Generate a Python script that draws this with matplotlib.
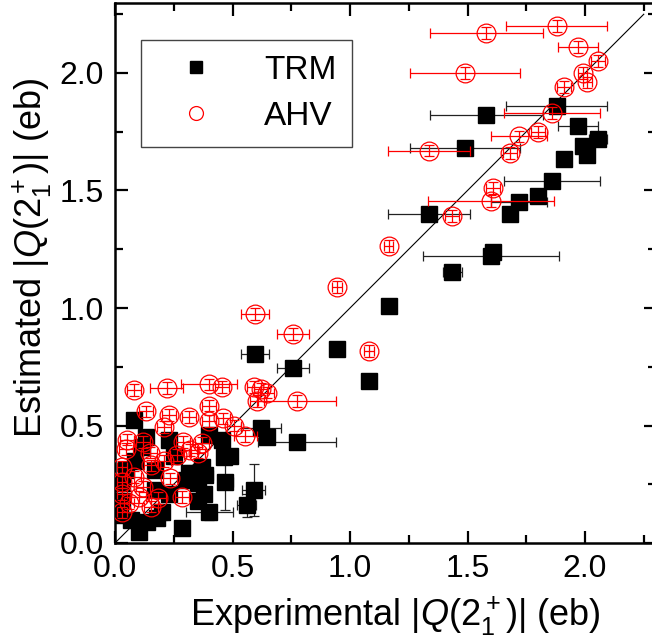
import matplotlib
matplotlib.use('Agg')
import matplotlib.pyplot as plt
import numpy as np

plt.rcParams['font.family'] = ['Liberation Sans', 'DejaVu Sans']
plt.rcParams['mathtext.fontset'] = 'custom'
plt.rcParams['mathtext.rm'] = 'Liberation Sans'
plt.rcParams['mathtext.it'] = 'Liberation Sans:italic'

# TRM (black squares): experimental x, estimated y, x error, y error
trm_x = [1.88, 1.58, 1.97, 2.055, 1.49, 1.99, 2.01, 1.91, 1.86, 1.72, 1.80, 1.335, 1.68,
         1.61, 1.60, 1.435, 1.165, 0.945, 1.08, 0.757, 0.595, 0.775,
         0.62, 0.645, 0.455, 0.40, 0.23, 0.13, 0.08, 0.465, 0.49, 0.47, 0.59, 0.56, 0.40,
         0.385, 0.355, 0.355, 0.285, 0.10, 0.135, 0.07, 0.18, 0.20, 0.085, 0.045, 0.03,
         0.03, 0.17, 0.23, 0.315, 0.37, 0.30, 0.115, 0.17, 0.02, 0.25, 0.38]
trm_y = [1.86, 1.82, 1.775, 1.72, 1.68, 1.69, 1.65, 1.635, 1.54, 1.45, 1.475, 1.40, 1.40,
         1.24, 1.22, 1.155, 1.01, 0.825, 0.69, 0.745, 0.805, 0.43,
         0.49, 0.45, 0.44, 0.46, 0.44, 0.45, 0.525, 0.365, 0.37, 0.26, 0.225, 0.16, 0.13,
         0.29, 0.255, 0.18, 0.065, 0.045, 0.09, 0.10, 0.105, 0.13, 0.35, 0.31, 0.255,
         0.18, 0.225, 0.21, 0.30, 0.325, 0.27, 0.41, 0.31, 0.12, 0.37, 0.21]
trm_xerr = [0.215, 0.24, 0.085, 0.04, 0.235, 0.02, 0.02, 0.03, 0.205, 0.12, 0.03, 0.175, 0.03,
            0.03, 0.29, 0.04, 0.02, 0.02, 0.02, 0.068, 0.06, 0.165,
            0.085, 0.03, 0.03, 0.03, 0.03, 0.03, 0.03, 0.03, 0.03, 0.03, 0.05, 0.04, 0.10,
            0.03, 0.03, 0.03, 0.03, 0.02, 0.03, 0.02, 0.03, 0.03, 0.03, 0.02, 0.02,
            0.02, 0.03, 0.03, 0.03, 0.03, 0.03, 0.03, 0.03, 0.02, 0.03, 0.03]
trm_yerr = [0.02] * 29 + [0.03, 0.03, 0.12, 0.11, 0.05, 0.03] + [0.03] * 23

# AHV (red open circles)
ahv_x = [1.88, 1.58, 1.97, 2.055, 1.49, 1.99, 2.01, 1.91, 1.86, 1.72, 1.80, 1.335, 1.68,
         1.61, 1.60, 1.435, 1.165, 0.945, 1.08, 0.757, 0.595, 0.775,
         0.08, 0.22, 0.40, 0.455, 0.59, 0.62, 0.605, 0.645, 0.13, 0.21, 0.23, 0.315, 0.40,
         0.40, 0.46, 0.505, 0.555, 0.05, 0.12, 0.15, 0.045, 0.29, 0.37, 0.265, 0.355,
         0.03, 0.155, 0.21, 0.235, 0.32, 0.285, 0.10, 0.03, 0.03, 0.155, 0.185, 0.03,
         0.08, 0.12, 0.06]
ahv_y = [2.20, 2.17, 2.11, 2.05, 2.00, 2.00, 1.96, 1.94, 1.83, 1.73, 1.75, 1.67, 1.66,
         1.51, 1.455, 1.39, 1.265, 1.09, 0.817, 0.89, 0.975, 0.605,
         0.65, 0.66, 0.675, 0.665, 0.665, 0.655, 0.605, 0.64, 0.56, 0.495, 0.545, 0.535, 0.585,
         0.52, 0.53, 0.50, 0.455, 0.44, 0.43, 0.385, 0.40, 0.43, 0.425, 0.375, 0.385,
         0.325, 0.33, 0.35, 0.275, 0.395, 0.195, 0.195, 0.21, 0.13, 0.155, 0.19, 0.26,
         0.28, 0.24, 0.17]
ahv_xerr = [0.215, 0.24, 0.085, 0.03, 0.235, 0.02, 0.02, 0.03, 0.205, 0.12, 0.03, 0.175, 0.03,
            0.03, 0.27, 0.03, 0.02, 0.02, 0.02, 0.068, 0.06, 0.165,
            0.03, 0.07, 0.12, 0.03, 0.03, 0.03, 0.03, 0.03, 0.03, 0.03, 0.03, 0.03, 0.03,
            0.03, 0.03, 0.03, 0.05, 0.03, 0.03, 0.03, 0.03, 0.03, 0.03, 0.03, 0.03,
            0.02, 0.03, 0.03, 0.03, 0.03, 0.03, 0.03, 0.02, 0.02, 0.03, 0.03, 0.02,
            0.03, 0.03, 0.02]
ahv_yerr = [0.025] * len(ahv_x)

fig = plt.figure(figsize=(6.52, 6.42), dpi=100)
ax = fig.add_axes([115 / 652, 99 / 642, 2.3 * 235 / 652, 2.3 * 235 / 642])

ax.plot([0, 2.25], [0, 2.25], color='black', linewidth=0.8, zorder=1)

ax.errorbar(trm_x, trm_y, xerr=trm_xerr, yerr=trm_yerr, fmt='s', color='black',
            ecolor='#222222', elinewidth=0.9, capsize=3.5, capthick=0.9,
            markersize=12, label='TRM', zorder=2)
ax.errorbar(ahv_x, ahv_y, xerr=ahv_xerr, yerr=ahv_yerr, fmt='o', color='red',
            mfc='none', mec='red', mew=0.9, ecolor='red', elinewidth=0.9,
            capsize=3.5, capthick=0.9, markersize=13.5, label='AHV', zorder=3)

ax.set_xlim(0, 2.3)
ax.set_ylim(0, 2.3)
ax.set_xticks(np.arange(0, 2.01, 0.5))
ax.set_yticks(np.arange(0, 2.01, 0.5))
ax.set_xticks(np.arange(0.25, 2.3, 0.5), minor=True)
ax.set_yticks(np.arange(0.25, 2.3, 0.5), minor=True)
ax.xaxis.set_major_formatter(matplotlib.ticker.FormatStrFormatter('%.1f'))
ax.yaxis.set_major_formatter(matplotlib.ticker.FormatStrFormatter('%.1f'))
ax.tick_params(which='both', direction='in', top=True, right=True, width=1.6,
               labelsize=23, pad=8)
ax.tick_params(which='major', length=9)
ax.tick_params(which='minor', length=6)
for sp in ax.spines.values():
    sp.set_linewidth(1.8)

ax.set_xlabel(r'Experimental $|Q(2^+_1)|$ (eb)', fontsize=26)
ax.set_ylabel(r'Estimated $|Q(2^+_1)|$ (eb)', fontsize=26)
ax.xaxis.set_label_coords(0.518, -0.095)
ax.yaxis.set_label_coords(-0.112, 0.527)

handles = [
    plt.Line2D([], [], marker='s', color='black', linestyle='none', markersize=9),
    plt.Line2D([], [], marker='o', color='red', mfc='none', linestyle='none',
               markersize=10, mew=0.9),
]
leg = ax.legend(handles, ['TRM', 'AHV'], loc='upper left', bbox_to_anchor=(0.048, 0.931),
                fontsize=24, frameon=True, fancybox=False, edgecolor='#444444',
                framealpha=1, handlelength=2.4, handletextpad=0.85, borderpad=0.45,
                labelspacing=0.45, borderaxespad=0)
leg.get_frame().set_linewidth(1.0)

fig.savefig('out.png', dpi=100)
